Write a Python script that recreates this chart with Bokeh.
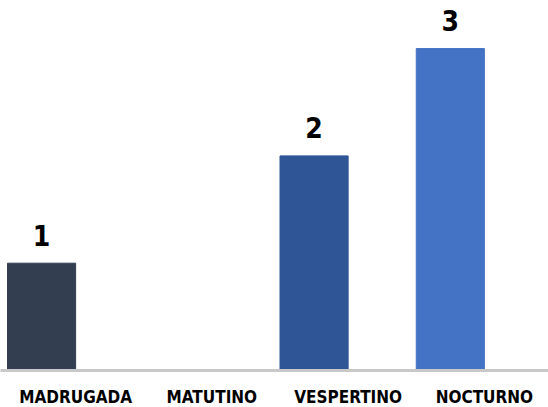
from bokeh.plotting import figure
from bokeh.models import Range1d, FixedTicker, ColumnDataSource
from bokeh.core.properties import value
from bokeh.embed import file_html
from bokeh.resources import INLINE

categories = ["MADRUGADA", "MATUTINO", "VESPERTINO", "NOCTURNO"]
values = [1, 0, 2, 3]
colors = ["#333F50", "#333F50", "#2F5597", "#4472C4"]

FONT = "DejaVu Sans Condensed"

centers = [i + 0.5 for i in range(len(categories))]
bar_x = [c - 0.25 for c in centers]

src = ColumnDataSource(dict(x=bar_x, top=values, color=colors))
lab = ColumnDataSource(dict(
    x=[x for x, v in zip(bar_x, values) if v > 0],
    y=[v for v in values if v > 0],
    t=[str(v) for v in values if v > 0],
))

p = figure(frame_width=548, frame_height=370, output_backend="svg", toolbar_location=None,
           x_range=Range1d(-0.0514, 3.9706), y_range=Range1d(0, 3.448),
           min_border_left=0, min_border_right=0, min_border_top=0, min_border_bottom=0)

p.vbar(x="x", top="top", width=0.5, bottom=0, color="color", source=src)
p.text(x="x", y="y", text="t", source=lab, text_align="center", text_baseline="middle",
       y_offset=-28, text_font_size="28px", text_font_style="bold", text_color="#000000",
       text_font=value(FONT))

p.yaxis.visible = False
p.grid.visible = False
p.outline_line_color = None

ax = p.xaxis[0]
ax.ticker = FixedTicker(ticks=centers)
ax.major_label_overrides = {c: n for c, n in zip(centers, categories)}
ax.axis_line_color = "#C8C8C8"
ax.axis_line_width = 3
ax.major_tick_line_color = None
ax.minor_tick_line_color = None
ax.major_tick_out = 0
ax.major_tick_in = 0
ax.minor_tick_out = 0
ax.minor_tick_in = 0
ax.major_label_standoff = 16
ax.major_label_text_font = FONT
ax.major_label_text_font_size = "17px"
ax.major_label_text_font_style = "bold"
ax.major_label_text_color = "#000000"

open("out.html", "w").write(file_html(p, INLINE))
